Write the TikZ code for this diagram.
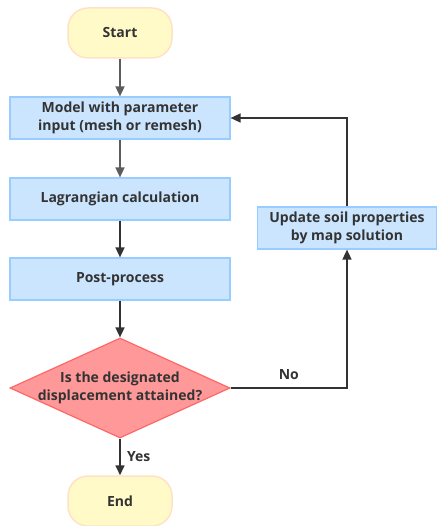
\documentclass[tikz,border=0pt]{standalone}
\usepackage{fontspec}
\setmainfont{Open Sans}
\usepackage{xcolor}
\usepackage{tikz}
\usetikzlibrary{arrows.meta,positioning,shapes.geometric}

\definecolor{termfill}{HTML}{FFFAC8}
\definecolor{termline}{HTML}{FFE2C4}
\definecolor{boxfill}{HTML}{CCE5FF}
\definecolor{boxline}{HTML}{99CCFF}
\definecolor{decfill}{HTML}{FF9999}
\definecolor{decline}{HTML}{FF6666}
\definecolor{txt}{HTML}{333333}
\definecolor{lineA}{HTML}{5C5C5C}

\tikzset{
  terminal/.style={draw=termline,line width=1.5pt,fill=termfill,rounded corners=20pt,
    minimum width=104pt,minimum height=50pt,inner sep=0pt},
  procbox/.style={draw=boxline,line width=1.2pt,fill=boxfill,align=center,
    minimum width=220pt,minimum height=42pt,inner sep=0pt},
  decision/.style={draw=decline,line width=1.2pt,fill=decfill,diamond,aspect=2.2,
    minimum width=220pt,minimum height=100pt,inner sep=0pt},
  flow/.style={line width=1.6pt,draw=txt,-{Triangle[width=9pt,length=10pt]}},
}

\begin{document}
\begin{tikzpicture}[x=1pt,y=-1pt,font=\bfseries\fontsize{14}{18}\selectfont,text=txt]
  \useasboundingbox (0,0) rectangle (436,526);
  % main column
  \node[terminal] (start) at (120,33) {Start};
  \node[procbox] (model) at (120,118) {Model with parameter\\input (mesh or remesh)};
  \node[procbox] (lagr) at (120,199) {Lagrangian calculation};
  \node[procbox] (post) at (120,279) {Post-process};
  \node[decision] (check) at (120,388) {};
  \node[align=center] (checkq) at (check) {Is the designated\\displacement attained?};
  \node[terminal] (stop) at (120,501) {End};
  % loop back
  \node[procbox,minimum width=179pt] (update) at (347,228) {Update soil properties\\by map solution};

  \draw[flow,draw=lineA] (start) -- (model);
  \draw[flow,draw=lineA] (model) -- (lagr);
  \draw[flow] (lagr) -- (post);
  \draw[flow] (post) -- (check);
  \draw[flow] (check) -- node[right=3pt] {Yes} (stop);
  \draw[flow] (check.east) -| node[pos=0.25,above=4pt] {No} (update.south);
  \draw[flow] (update.north) |- (model.east);
\end{tikzpicture}
\end{document}
